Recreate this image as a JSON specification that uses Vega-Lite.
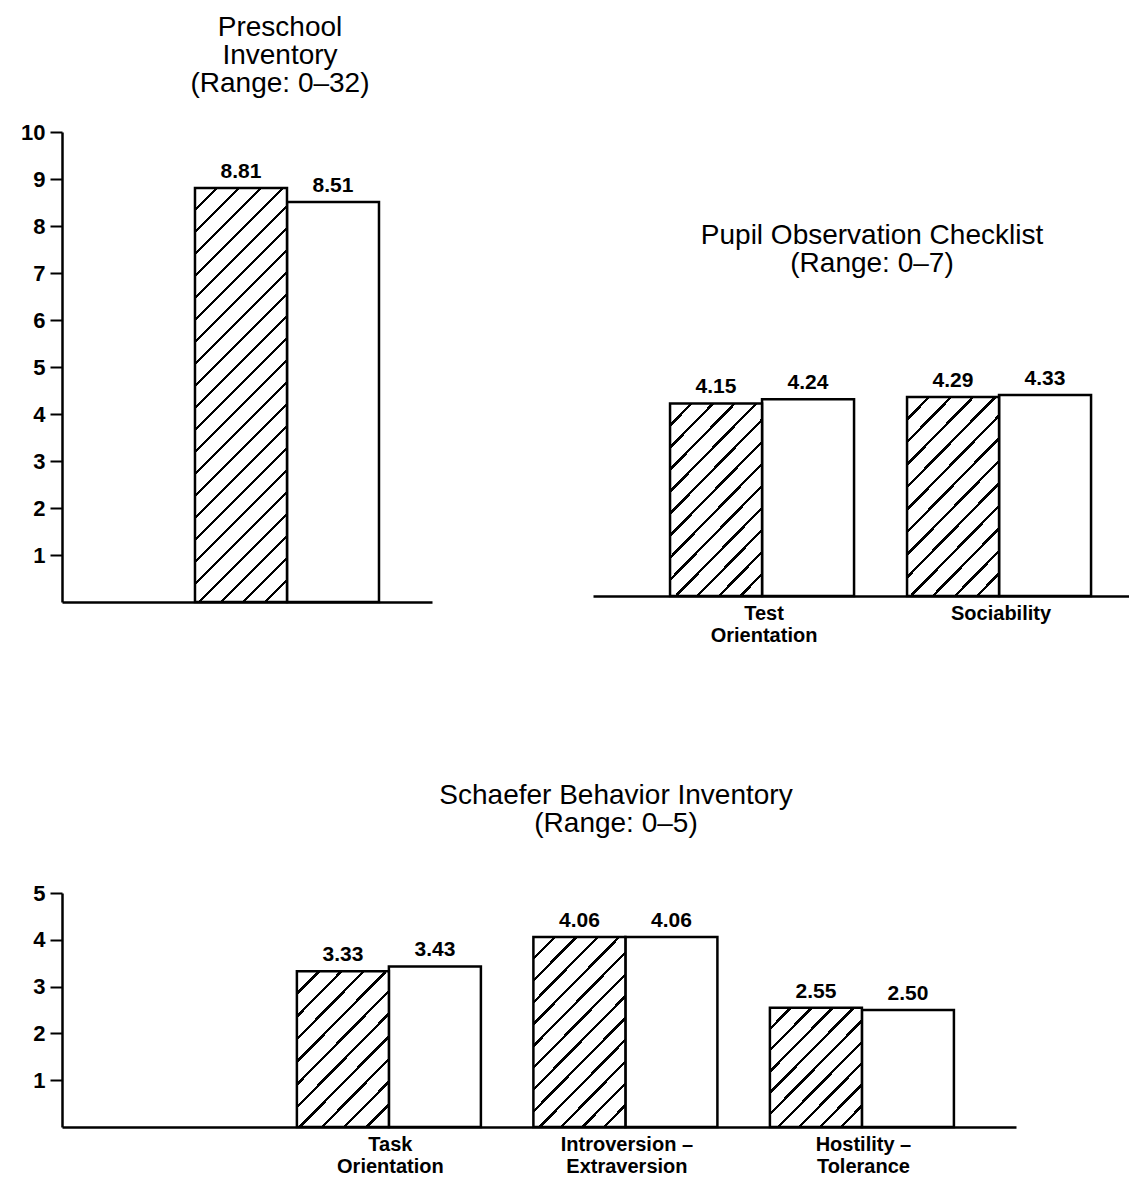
{
  "$schema": "https://vega.github.io/schema/vega-lite/v6.json",
  "background": "white",
  "padding": {"left": 20, "top": 14, "right": 0, "bottom": 0},
  "config": {
    "view": {"stroke": null},
    "font": "Liberation Sans",
    "axis": {"domainColor": "black", "domainWidth": 2.5, "tickColor": "black", "tickWidth": 2, "labelColor": "black", "grid": false, "labelFont": "Liberation Sans"},
    "axisX": {"ticks": false, "tickSize": 0, "labelAngle": 0, "labelFontSize": 20, "labelFontWeight": "bold", "labelPadding": 7, "labelLineHeight": 22},
    "axisY": {"tickSize": 12, "labelPadding": 5, "labelFontSize": 22, "labelFontWeight": "bold"},
    "title": {"font": "Liberation Sans", "fontSize": 28, "fontWeight": "normal", "color": "black", "lineHeight": 28, "anchor": "middle", "baseline": "alphabetic"}
  },
  "data": {"values": [
    {"panel": "Preschool Inventory", "measure": "Preschool Inventory", "group": "Group 1", "value": 8.81},
    {"panel": "Preschool Inventory", "measure": "Preschool Inventory", "group": "Group 2", "value": 8.51},
    {"panel": "Pupil Observation Checklist", "measure": "Test Orientation", "group": "Group 1", "value": 4.15},
    {"panel": "Pupil Observation Checklist", "measure": "Test Orientation", "group": "Group 2", "value": 4.24},
    {"panel": "Pupil Observation Checklist", "measure": "Sociability", "group": "Group 1", "value": 4.29},
    {"panel": "Pupil Observation Checklist", "measure": "Sociability", "group": "Group 2", "value": 4.33},
    {"panel": "Schaefer Behavior Inventory", "measure": "Task Orientation", "group": "Group 1", "value": 3.33},
    {"panel": "Schaefer Behavior Inventory", "measure": "Task Orientation", "group": "Group 2", "value": 3.43},
    {"panel": "Schaefer Behavior Inventory", "measure": "Introversion – Extraversion", "group": "Group 1", "value": 4.06},
    {"panel": "Schaefer Behavior Inventory", "measure": "Introversion – Extraversion", "group": "Group 2", "value": 4.06},
    {"panel": "Schaefer Behavior Inventory", "measure": "Hostility – Tolerance", "group": "Group 1", "value": 2.55},
    {"panel": "Schaefer Behavior Inventory", "measure": "Hostility – Tolerance", "group": "Group 2", "value": 2.50}
  ]},
  "columns": 2,
  "align": "none",
  "bounds": "flush",
  "spacing": {"row": 291, "column": -423},
  "concat": [
    {
      "width": 370, "height": 470,
      "title": {"text": ["Preschool", "Inventory", "(Range: 0–32)"], "dx": 33, "offset": 23},
      "transform": [{"filter": "datum.panel == 'Preschool Inventory'"}],
      "encoding": {
        "x": {"field": "measure", "type": "nominal", "scale": {"domain": ["Preschool Inventory"], "paddingInner": 0, "paddingOuter": 0.5054, "align": 0.715}, "axis": {"labels": false, "ticks": false, "title": null}},
        "xOffset": {"field": "group", "type": "nominal", "scale": {"domain": ["Group 1", "Group 2"], "paddingInner": 0, "paddingOuter": 0}},
        "y": {"field": "value", "type": "quantitative", "scale": {"domain": [0, 10], "nice": false}, "axis": {"values": [1, 2, 3, 4, 5, 6, 7, 8, 9, 10], "title": null}}
      },
      "layer": [
        {"transform": [{"filter": "datum.group == 'Group 2'"}], "mark": {"type": "bar", "fill": "white", "stroke": "black", "strokeWidth": 2.5}},
        {"transform": [{"filter": "datum.group == 'Group 1'"}], "mark": {"type": "bar", "stroke": "black", "strokeWidth": 2.5, "fill": {"gradient": "linear", "x1": 0, "y1": 0, "x2": 0.2588, "y2": 1.1647, "stops": [
          {"offset": 0.0400, "color": "white"}, {"offset": 0.0400, "color": "black"}, {"offset": 0.0470, "color": "black"}, {"offset": 0.0470, "color": "white"},
          {"offset": 0.0835, "color": "white"}, {"offset": 0.0835, "color": "black"}, {"offset": 0.0905, "color": "black"}, {"offset": 0.0905, "color": "white"},
          {"offset": 0.1269, "color": "white"}, {"offset": 0.1269, "color": "black"}, {"offset": 0.1339, "color": "black"}, {"offset": 0.1339, "color": "white"},
          {"offset": 0.1704, "color": "white"}, {"offset": 0.1704, "color": "black"}, {"offset": 0.1774, "color": "black"}, {"offset": 0.1774, "color": "white"},
          {"offset": 0.2139, "color": "white"}, {"offset": 0.2139, "color": "black"}, {"offset": 0.2209, "color": "black"}, {"offset": 0.2209, "color": "white"},
          {"offset": 0.2574, "color": "white"}, {"offset": 0.2574, "color": "black"}, {"offset": 0.2644, "color": "black"}, {"offset": 0.2644, "color": "white"},
          {"offset": 0.3008, "color": "white"}, {"offset": 0.3008, "color": "black"}, {"offset": 0.3078, "color": "black"}, {"offset": 0.3078, "color": "white"},
          {"offset": 0.3443, "color": "white"}, {"offset": 0.3443, "color": "black"}, {"offset": 0.3513, "color": "black"}, {"offset": 0.3513, "color": "white"},
          {"offset": 0.3878, "color": "white"}, {"offset": 0.3878, "color": "black"}, {"offset": 0.3948, "color": "black"}, {"offset": 0.3948, "color": "white"},
          {"offset": 0.4313, "color": "white"}, {"offset": 0.4313, "color": "black"}, {"offset": 0.4383, "color": "black"}, {"offset": 0.4383, "color": "white"},
          {"offset": 0.4748, "color": "white"}, {"offset": 0.4748, "color": "black"}, {"offset": 0.4818, "color": "black"}, {"offset": 0.4818, "color": "white"},
          {"offset": 0.5182, "color": "white"}, {"offset": 0.5182, "color": "black"}, {"offset": 0.5252, "color": "black"}, {"offset": 0.5252, "color": "white"},
          {"offset": 0.5617, "color": "white"}, {"offset": 0.5617, "color": "black"}, {"offset": 0.5687, "color": "black"}, {"offset": 0.5687, "color": "white"},
          {"offset": 0.6052, "color": "white"}, {"offset": 0.6052, "color": "black"}, {"offset": 0.6122, "color": "black"}, {"offset": 0.6122, "color": "white"},
          {"offset": 0.6487, "color": "white"}, {"offset": 0.6487, "color": "black"}, {"offset": 0.6557, "color": "black"}, {"offset": 0.6557, "color": "white"},
          {"offset": 0.6922, "color": "white"}, {"offset": 0.6922, "color": "black"}, {"offset": 0.6992, "color": "black"}, {"offset": 0.6992, "color": "white"},
          {"offset": 0.7356, "color": "white"}, {"offset": 0.7356, "color": "black"}, {"offset": 0.7426, "color": "black"}, {"offset": 0.7426, "color": "white"},
          {"offset": 0.7791, "color": "white"}, {"offset": 0.7791, "color": "black"}, {"offset": 0.7861, "color": "black"}, {"offset": 0.7861, "color": "white"},
          {"offset": 0.8226, "color": "white"}, {"offset": 0.8226, "color": "black"}, {"offset": 0.8296, "color": "black"}, {"offset": 0.8296, "color": "white"},
          {"offset": 0.8661, "color": "white"}, {"offset": 0.8661, "color": "black"}, {"offset": 0.8731, "color": "black"}, {"offset": 0.8731, "color": "white"},
          {"offset": 0.9095, "color": "white"}, {"offset": 0.9095, "color": "black"}, {"offset": 0.9165, "color": "black"}, {"offset": 0.9165, "color": "white"},
          {"offset": 0.9530, "color": "white"}, {"offset": 0.9530, "color": "black"}, {"offset": 0.9600, "color": "black"}, {"offset": 0.9600, "color": "white"}
        ]}}},
        {"mark": {"type": "text", "dy": -6, "baseline": "bottom", "fontWeight": "bold", "fontSize": 21, "color": "black"}, "encoding": {"text": {"field": "value", "type": "quantitative", "format": ".2f"}}}
      ]
    },
    {
      "width": 536, "height": 464,
      "title": {"text": ["Pupil Observation Checklist", "(Range: 0–7)"], "dx": 11, "dy": 146, "offset": 0},
      "transform": [{"filter": "datum.panel == 'Pupil Observation Checklist'"}],
      "encoding": {
        "x": {"field": "measure", "type": "nominal", "scale": {"domain": ["Test Orientation", "Sociability"], "paddingInner": 0.2068, "paddingOuter": 0.2342, "align": 0.694}, "axis": {"title": null, "labelExpr": "datum.label == 'Test Orientation' ? ['Test', 'Orientation'] : datum.label"}},
        "xOffset": {"field": "group", "type": "nominal", "scale": {"domain": ["Group 1", "Group 2"], "paddingInner": 0, "paddingOuter": 0}},
        "y": {"field": "value", "type": "quantitative", "scale": {"domain": [0, 10], "nice": false}, "axis": null}
      },
      "layer": [
        {"transform": [{"filter": "datum.group == 'Group 2'"}], "mark": {"type": "bar", "fill": "white", "stroke": "black", "strokeWidth": 2.5}},
        {"transform": [{"filter": "datum.group == 'Group 1' && datum.measure == 'Test Orientation'"}], "mark": {"type": "bar", "stroke": "black", "strokeWidth": 2.5, "fill": {"gradient": "linear", "x1": 0, "y1": 0, "x2": 0.5867, "y2": 1.2018, "stops": [
          {"offset": 0.0708, "color": "white"}, {"offset": 0.0708, "color": "black"}, {"offset": 0.0830, "color": "black"}, {"offset": 0.0830, "color": "white"},
          {"offset": 0.1477, "color": "white"}, {"offset": 0.1477, "color": "black"}, {"offset": 0.1599, "color": "black"}, {"offset": 0.1599, "color": "white"},
          {"offset": 0.2247, "color": "white"}, {"offset": 0.2247, "color": "black"}, {"offset": 0.2369, "color": "black"}, {"offset": 0.2369, "color": "white"},
          {"offset": 0.3016, "color": "white"}, {"offset": 0.3016, "color": "black"}, {"offset": 0.3138, "color": "black"}, {"offset": 0.3138, "color": "white"},
          {"offset": 0.3785, "color": "white"}, {"offset": 0.3785, "color": "black"}, {"offset": 0.3907, "color": "black"}, {"offset": 0.3907, "color": "white"},
          {"offset": 0.4554, "color": "white"}, {"offset": 0.4554, "color": "black"}, {"offset": 0.4676, "color": "black"}, {"offset": 0.4676, "color": "white"},
          {"offset": 0.5324, "color": "white"}, {"offset": 0.5324, "color": "black"}, {"offset": 0.5446, "color": "black"}, {"offset": 0.5446, "color": "white"},
          {"offset": 0.6093, "color": "white"}, {"offset": 0.6093, "color": "black"}, {"offset": 0.6215, "color": "black"}, {"offset": 0.6215, "color": "white"},
          {"offset": 0.6862, "color": "white"}, {"offset": 0.6862, "color": "black"}, {"offset": 0.6984, "color": "black"}, {"offset": 0.6984, "color": "white"},
          {"offset": 0.7631, "color": "white"}, {"offset": 0.7631, "color": "black"}, {"offset": 0.7753, "color": "black"}, {"offset": 0.7753, "color": "white"},
          {"offset": 0.8401, "color": "white"}, {"offset": 0.8401, "color": "black"}, {"offset": 0.8523, "color": "black"}, {"offset": 0.8523, "color": "white"},
          {"offset": 0.9170, "color": "white"}, {"offset": 0.9170, "color": "black"}, {"offset": 0.9292, "color": "black"}, {"offset": 0.9292, "color": "white"}
        ]}}},
        {"transform": [{"filter": "datum.group == 'Group 1' && datum.measure == 'Sociability'"}], "mark": {"type": "bar", "stroke": "black", "strokeWidth": 2.5, "fill": {"gradient": "linear", "x1": 0, "y1": 0, "x2": 0.5685, "y2": 1.2038, "stops": [
          {"offset": 0.0708, "color": "white"}, {"offset": 0.0708, "color": "black"}, {"offset": 0.0830, "color": "black"}, {"offset": 0.0830, "color": "white"},
          {"offset": 0.1477, "color": "white"}, {"offset": 0.1477, "color": "black"}, {"offset": 0.1599, "color": "black"}, {"offset": 0.1599, "color": "white"},
          {"offset": 0.2247, "color": "white"}, {"offset": 0.2247, "color": "black"}, {"offset": 0.2369, "color": "black"}, {"offset": 0.2369, "color": "white"},
          {"offset": 0.3016, "color": "white"}, {"offset": 0.3016, "color": "black"}, {"offset": 0.3138, "color": "black"}, {"offset": 0.3138, "color": "white"},
          {"offset": 0.3785, "color": "white"}, {"offset": 0.3785, "color": "black"}, {"offset": 0.3907, "color": "black"}, {"offset": 0.3907, "color": "white"},
          {"offset": 0.4554, "color": "white"}, {"offset": 0.4554, "color": "black"}, {"offset": 0.4676, "color": "black"}, {"offset": 0.4676, "color": "white"},
          {"offset": 0.5324, "color": "white"}, {"offset": 0.5324, "color": "black"}, {"offset": 0.5446, "color": "black"}, {"offset": 0.5446, "color": "white"},
          {"offset": 0.6093, "color": "white"}, {"offset": 0.6093, "color": "black"}, {"offset": 0.6215, "color": "black"}, {"offset": 0.6215, "color": "white"},
          {"offset": 0.6862, "color": "white"}, {"offset": 0.6862, "color": "black"}, {"offset": 0.6984, "color": "black"}, {"offset": 0.6984, "color": "white"},
          {"offset": 0.7631, "color": "white"}, {"offset": 0.7631, "color": "black"}, {"offset": 0.7753, "color": "black"}, {"offset": 0.7753, "color": "white"},
          {"offset": 0.8401, "color": "white"}, {"offset": 0.8401, "color": "black"}, {"offset": 0.8523, "color": "black"}, {"offset": 0.8523, "color": "white"},
          {"offset": 0.9170, "color": "white"}, {"offset": 0.9170, "color": "black"}, {"offset": 0.9292, "color": "black"}, {"offset": 0.9292, "color": "white"}
        ]}}},
        {"mark": {"type": "text", "dy": -6, "baseline": "bottom", "fontWeight": "bold", "fontSize": 21, "color": "black"}, "encoding": {"text": {"field": "value", "type": "quantitative", "format": ".2f"}}}
      ]
    },
    {
      "width": 954, "height": 234,
      "title": {"text": ["Schaefer Behavior Inventory", "(Range: 0–5)"], "dx": 77, "offset": 44},
      "transform": [{"filter": "datum.panel == 'Schaefer Behavior Inventory'"}],
      "encoding": {
        "x": {"field": "measure", "type": "nominal", "scale": {"domain": ["Task Orientation", "Introversion – Extraversion", "Hostility – Tolerance"], "paddingInner": 0.2093, "paddingOuter": 0.6215, "align": 0.799}, "axis": {"title": null, "labelExpr": "datum.label == 'Task Orientation' ? ['Task', 'Orientation'] : datum.label == 'Introversion – Extraversion' ? ['Introversion –', 'Extraversion'] : datum.label == 'Hostility – Tolerance' ? ['Hostility –', 'Tolerance'] : datum.label"}},
        "xOffset": {"field": "group", "type": "nominal", "scale": {"domain": ["Group 1", "Group 2"], "paddingInner": 0, "paddingOuter": 0}},
        "y": {"field": "value", "type": "quantitative", "scale": {"domain": [0, 5], "nice": false}, "axis": {"values": [1, 2, 3, 4, 5], "title": null}}
      },
      "layer": [
        {"transform": [{"filter": "datum.group == 'Group 2'"}], "mark": {"type": "bar", "fill": "white", "stroke": "black", "strokeWidth": 2.5}},
        {"transform": [{"filter": "datum.group == 'Group 1' && datum.measure == 'Task Orientation'"}], "mark": {"type": "bar", "stroke": "black", "strokeWidth": 2.5, "fill": {"gradient": "linear", "x1": 0, "y1": 0, "x2": 0.7059, "y2": 1.1765, "stops": [
          {"offset": 0.0839, "color": "white"}, {"offset": 0.0839, "color": "black"}, {"offset": 0.0979, "color": "black"}, {"offset": 0.0979, "color": "white"},
          {"offset": 0.1748, "color": "white"}, {"offset": 0.1748, "color": "black"}, {"offset": 0.1888, "color": "black"}, {"offset": 0.1888, "color": "white"},
          {"offset": 0.2657, "color": "white"}, {"offset": 0.2657, "color": "black"}, {"offset": 0.2797, "color": "black"}, {"offset": 0.2797, "color": "white"},
          {"offset": 0.3566, "color": "white"}, {"offset": 0.3566, "color": "black"}, {"offset": 0.3706, "color": "black"}, {"offset": 0.3706, "color": "white"},
          {"offset": 0.4475, "color": "white"}, {"offset": 0.4475, "color": "black"}, {"offset": 0.4615, "color": "black"}, {"offset": 0.4615, "color": "white"},
          {"offset": 0.5385, "color": "white"}, {"offset": 0.5385, "color": "black"}, {"offset": 0.5525, "color": "black"}, {"offset": 0.5525, "color": "white"},
          {"offset": 0.6294, "color": "white"}, {"offset": 0.6294, "color": "black"}, {"offset": 0.6434, "color": "black"}, {"offset": 0.6434, "color": "white"},
          {"offset": 0.7203, "color": "white"}, {"offset": 0.7203, "color": "black"}, {"offset": 0.7343, "color": "black"}, {"offset": 0.7343, "color": "white"},
          {"offset": 0.8112, "color": "white"}, {"offset": 0.8112, "color": "black"}, {"offset": 0.8252, "color": "black"}, {"offset": 0.8252, "color": "white"},
          {"offset": 0.9021, "color": "white"}, {"offset": 0.9021, "color": "black"}, {"offset": 0.9161, "color": "black"}, {"offset": 0.9161, "color": "white"}
        ]}}},
        {"transform": [{"filter": "datum.group == 'Group 1' && datum.measure == 'Introversion – Extraversion'"}], "mark": {"type": "bar", "stroke": "black", "strokeWidth": 2.5, "fill": {"gradient": "linear", "x1": 0, "y1": 0, "x2": 0.5911, "y2": 1.2012, "stops": [
          {"offset": 0.0708, "color": "white"}, {"offset": 0.0708, "color": "black"}, {"offset": 0.0830, "color": "black"}, {"offset": 0.0830, "color": "white"},
          {"offset": 0.1477, "color": "white"}, {"offset": 0.1477, "color": "black"}, {"offset": 0.1599, "color": "black"}, {"offset": 0.1599, "color": "white"},
          {"offset": 0.2247, "color": "white"}, {"offset": 0.2247, "color": "black"}, {"offset": 0.2369, "color": "black"}, {"offset": 0.2369, "color": "white"},
          {"offset": 0.3016, "color": "white"}, {"offset": 0.3016, "color": "black"}, {"offset": 0.3138, "color": "black"}, {"offset": 0.3138, "color": "white"},
          {"offset": 0.3785, "color": "white"}, {"offset": 0.3785, "color": "black"}, {"offset": 0.3907, "color": "black"}, {"offset": 0.3907, "color": "white"},
          {"offset": 0.4554, "color": "white"}, {"offset": 0.4554, "color": "black"}, {"offset": 0.4676, "color": "black"}, {"offset": 0.4676, "color": "white"},
          {"offset": 0.5324, "color": "white"}, {"offset": 0.5324, "color": "black"}, {"offset": 0.5446, "color": "black"}, {"offset": 0.5446, "color": "white"},
          {"offset": 0.6093, "color": "white"}, {"offset": 0.6093, "color": "black"}, {"offset": 0.6215, "color": "black"}, {"offset": 0.6215, "color": "white"},
          {"offset": 0.6862, "color": "white"}, {"offset": 0.6862, "color": "black"}, {"offset": 0.6984, "color": "black"}, {"offset": 0.6984, "color": "white"},
          {"offset": 0.7631, "color": "white"}, {"offset": 0.7631, "color": "black"}, {"offset": 0.7753, "color": "black"}, {"offset": 0.7753, "color": "white"},
          {"offset": 0.8401, "color": "white"}, {"offset": 0.8401, "color": "black"}, {"offset": 0.8523, "color": "black"}, {"offset": 0.8523, "color": "white"},
          {"offset": 0.9170, "color": "white"}, {"offset": 0.9170, "color": "black"}, {"offset": 0.9292, "color": "black"}, {"offset": 0.9292, "color": "white"}
        ]}}},
        {"transform": [{"filter": "datum.group == 'Group 1' && datum.measure == 'Hostility – Tolerance'"}], "mark": {"type": "bar", "stroke": "black", "strokeWidth": 2.5, "fill": {"gradient": "linear", "x1": 0, "y1": 0, "x2": 0.8658, "y2": 1.1051, "stops": [
          {"offset": 0.0918, "color": "white"}, {"offset": 0.0918, "color": "black"}, {"offset": 0.1082, "color": "black"}, {"offset": 0.1082, "color": "white"},
          {"offset": 0.1918, "color": "white"}, {"offset": 0.1918, "color": "black"}, {"offset": 0.2082, "color": "black"}, {"offset": 0.2082, "color": "white"},
          {"offset": 0.2918, "color": "white"}, {"offset": 0.2918, "color": "black"}, {"offset": 0.3082, "color": "black"}, {"offset": 0.3082, "color": "white"},
          {"offset": 0.3918, "color": "white"}, {"offset": 0.3918, "color": "black"}, {"offset": 0.4082, "color": "black"}, {"offset": 0.4082, "color": "white"},
          {"offset": 0.4918, "color": "white"}, {"offset": 0.4918, "color": "black"}, {"offset": 0.5082, "color": "black"}, {"offset": 0.5082, "color": "white"},
          {"offset": 0.5918, "color": "white"}, {"offset": 0.5918, "color": "black"}, {"offset": 0.6082, "color": "black"}, {"offset": 0.6082, "color": "white"},
          {"offset": 0.6918, "color": "white"}, {"offset": 0.6918, "color": "black"}, {"offset": 0.7082, "color": "black"}, {"offset": 0.7082, "color": "white"},
          {"offset": 0.7918, "color": "white"}, {"offset": 0.7918, "color": "black"}, {"offset": 0.8082, "color": "black"}, {"offset": 0.8082, "color": "white"},
          {"offset": 0.8918, "color": "white"}, {"offset": 0.8918, "color": "black"}, {"offset": 0.9082, "color": "black"}, {"offset": 0.9082, "color": "white"}
        ]}}},
        {"mark": {"type": "text", "dy": -6, "baseline": "bottom", "fontWeight": "bold", "fontSize": 21, "color": "black"}, "encoding": {"text": {"field": "value", "type": "quantitative", "format": ".2f"}}}
      ]
    }
  ]
}
